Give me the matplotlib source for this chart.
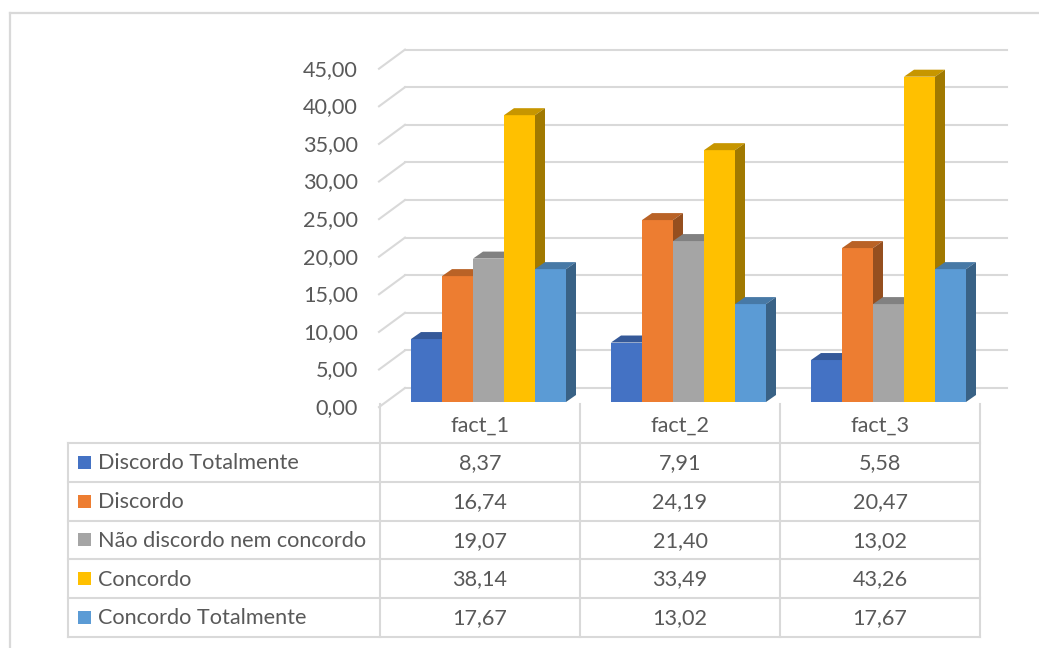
import numpy as np
import matplotlib
matplotlib.use("Agg")
import matplotlib.pyplot as plt
from matplotlib.patches import Polygon, Rectangle
from matplotlib.lines import Line2D
from matplotlib.colors import to_rgb

plt.rcParams['font.family'] = ['Lato', 'DejaVu Sans']

categories = ["fact_1", "fact_2", "fact_3"]
series_names = ["Discordo Totalmente", "Discordo", "Não discordo nem concordo",
                "Concordo", "Concordo Totalmente"]
discordo_totalmente = [8.37, 7.91, 5.58]
discordo = [16.74, 24.19, 20.47]
nao_discordo_nem_concordo = [19.07, 21.40, 13.02]
concordo = [38.14, 33.49, 43.26]
concordo_totalmente = [17.67, 13.02, 17.67]
series_values = [discordo_totalmente, discordo, nao_discordo_nem_concordo,
                 concordo, concordo_totalmente]
series_colors = ["#4472C4", "#ED7D31", "#A5A5A5", "#FFC000", "#5B9BD5"]
y_ticks = np.arange(0, 50, 5)

W, H = 1039, 648
TEXT = "#595959"
GRID = "#D9D9D9"
FS = 15.6

# pixel scale of the value axis: 45 units over ~338 px, one category per 200 px
PX_X = 200.0
PX_Y = 338.4 / 45

def shade(c, f):
    r, g, b = to_rgb(c)
    return (r * f, g * f, b * f)

def fmt(v):
    return f"{v:.2f}".replace(".", ",")

fig = plt.figure(figsize=(W / 100, H / 100), dpi=100)

# outer chart frame
fig.add_artist(Line2D([10 / W, 1], [1 - 13 / H] * 2, transform=fig.transFigure,
                      color=GRID, lw=1.6))
fig.add_artist(Line2D([10 / W] * 2, [0, 1 - 13 / H], transform=fig.transFigure,
                      color=GRID, lw=1.6))

ax = fig.add_axes([380 / W, 1 - 402 / H, 600 / W, 338.4 / H])
ax.set_xlim(-0.5, 2.5)
ax.set_ylim(0, 45)
ax.axis("off")

# back wall and side wall of the 3d box
wall_dx = 25 / PX_X
wall_dy = 14 / PX_Y
front_dy = -0.68
right_end = -0.5 + 627 / PX_X
for v in y_ticks:
    ax.plot([-0.5 + wall_dx, right_end], [v + wall_dy] * 2, color=GRID,
            lw=1.5, clip_on=False, zorder=1)
    ax.plot([-0.5 - 1 / PX_X, -0.5 + wall_dx], [v + front_dy, v + wall_dy],
            color=GRID, lw=1.5, clip_on=False, zorder=1)
    ax.text(-0.5 - 22 / PX_X, v - 0.8, fmt(v), ha="right", va="center",
            color=TEXT, fontsize=FS, clip_on=False)

# columns with a shallow depth
x = np.arange(len(categories))
bar_w = 31 / PX_X
shift = 8.5 / PX_X
depth_x = 10 / PX_X
depth_y = 7 / PX_Y
n = len(series_values)
for k, (vals, col) in enumerate(zip(series_values, series_colors)):
    xs = x + shift + (k - (n - 1) / 2) * bar_w
    ax.bar(xs, vals, width=bar_w, color=col, zorder=3 + 2 * k, clip_on=False)
    for xc, v in zip(xs, vals):
        l, r = xc - bar_w / 2, xc + bar_w / 2
        top = [(l, v), (r, v), (r + depth_x, v + depth_y), (l + depth_x, v + depth_y)]
        side = [(r, 0), (r + depth_x, depth_y), (r + depth_x, v + depth_y), (r, v)]
        ax.add_patch(Polygon(top, closed=True, facecolor=shade(col, 0.78),
                             edgecolor="none", zorder=4 + 2 * k, clip_on=False))
        ax.add_patch(Polygon(side, closed=True, facecolor=shade(col, 0.63),
                             edgecolor="none", zorder=4 + 2 * k, clip_on=False))

# data table under the plot
tab = fig.add_axes([68 / W, 1 - 637 / H, 912 / W, 233 / H])
left_edge = -0.5 - 312 / PX_X
tab.set_xlim(left_edge, 2.5)
tab.set_ylim(6, 0)
tab.axis("off")

for r in range(1, 7):
    tab.plot([left_edge, 2.5], [r, r], color=GRID, lw=1.5, clip_on=False)
tab.plot([left_edge, left_edge], [1, 6], color=GRID, lw=1.5, clip_on=False)
for xb in np.arange(-0.5, 3, 1):
    tab.plot([xb, xb], [0, 6], color=GRID, lw=1.5, clip_on=False)

for i, c in enumerate(categories):
    tab.text(i, 0.55, c, ha="center", va="center", color=TEXT, fontsize=FS)

key_w = 13 / PX_X
key_h = 13 / 38.8
for k, (name, vals, col) in enumerate(zip(series_names, series_values, series_colors)):
    row = k + 1
    tab.add_patch(Rectangle((left_edge + 10 / PX_X, row + 0.5 - key_h / 2), key_w, key_h,
                            facecolor=col, edgecolor="none", clip_on=False))
    tab.text(left_edge + 30 / PX_X, row + 0.52, name, ha="left", va="center",
             color=TEXT, fontsize=FS)
    for i, v in enumerate(vals):
        tab.text(i, row + 0.52, fmt(v), ha="center", va="center",
                 color=TEXT, fontsize=FS)

fig.savefig("out.png", dpi=100)
